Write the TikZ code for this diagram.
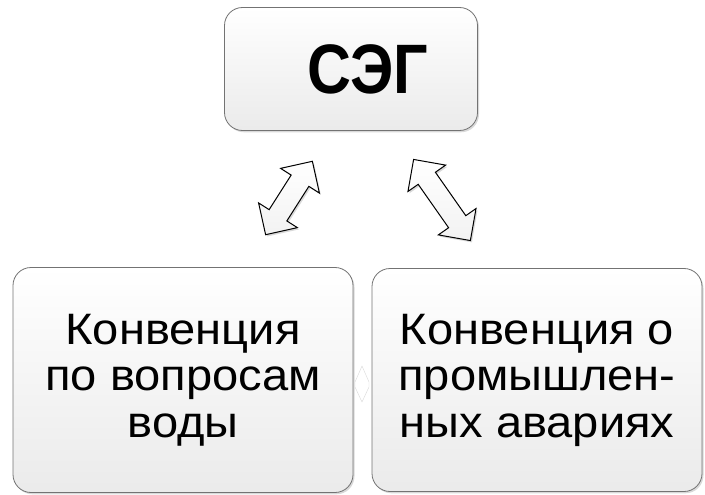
\documentclass[tikz,border=0pt]{standalone}
\usepackage{fontspec}
\setmainfont{Liberation Sans}
\newfontfamily\bodyfont[FakeStretch=1.07]{Liberation Sans}
\newfontfamily\headfont[FakeStretch=0.87]{Liberation Sans}
\usepackage{tikz}
\usetikzlibrary{positioning}
\usetikzlibrary{shapes,arrows,shadows}

\begin{document}
\begin{tikzpicture}[x=1pt, y=-1pt,
    box/.style={rectangle, rounded corners=18pt, draw=black!55, line width=0.8pt,
        top color=white, bottom color=black!8, inner sep=0pt,
        drop shadow={opacity=0.3, shadow xshift=1.5pt, shadow yshift=-1.8pt}},
    lbl/.style={align=center, inner sep=0pt, font=\bodyfont\fontsize{44}{46.5}\selectfont},
    dblarrow/.style={double arrow, draw=black, line width=1pt, inner xsep=0pt, inner ysep=10pt,
        top color=white, bottom color=black!5,
        double arrow head extend=12.5pt, double arrow tip angle=90,
        drop shadow={opacity=0.3, shadow xshift=1.5pt, shadow yshift=-1.8pt}}]
    \useasboundingbox (0,0) rectangle (705,495);
    % boxes
    \path
        node (seg)   at (351,69)  [box, minimum width=253pt, minimum height=123pt] {}
        node (water) at (183,380) [box, minimum width=340pt, minimum height=225pt] {}
        node (accid) at (537,380) [box, minimum width=330pt, minimum height=223pt] {};
    % texts
    \path
        node (segtext)   at (368,69)  [inner sep=0pt, font=\headfont\fontsize{70}{74}\selectfont\bfseries] {СЭГ}
        node (watertext) at (183,380) [lbl] {Конвенция\\по вопросам\\воды}
        node (accidtext) at (537,380) [lbl] {Конвенция о\\промышлен-\\ных авариях};
    % arrows
    \path
        node (arrl) at (289,198) [dblarrow, rotate=57.5, minimum height=87pt] {}
        node (arrr) at (442,200) [dblarrow, rotate=-55, minimum height=99pt] {};
    %\draw (seg) -- (water);
    \path[draw=black!15, fill=white]
        (355,382) -- (362,366) -- (369,382) -- (369,387) -- (362,402) -- (355,387) -- cycle;
\end{tikzpicture}
\end{document}
